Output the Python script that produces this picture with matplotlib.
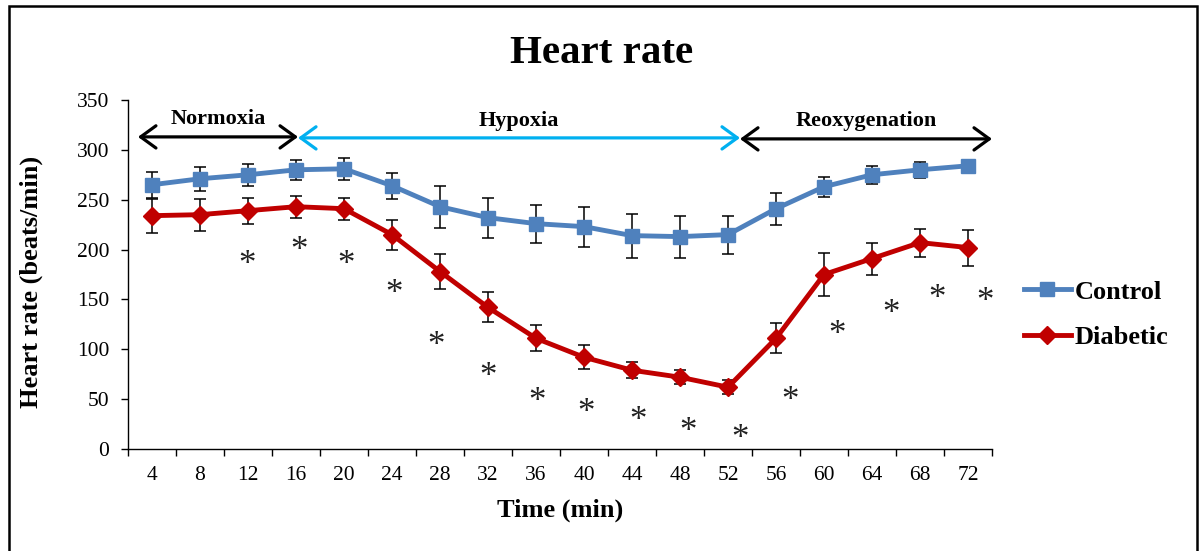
import matplotlib
matplotlib.use("Agg")
import matplotlib.pyplot as plt
from matplotlib.patches import Rectangle

plt.rcParams['font.family'] = ['Liberation Serif', 'DejaVu Serif']

# Recording times (min) and heart rate (beats/min), mean and SEM
time_min = [4, 8, 12, 16, 20, 24, 28, 32, 36, 40, 44, 48, 52, 56, 60, 64, 68, 72]
control = [265, 271, 275, 280, 281, 264, 243, 232, 226, 223, 214, 213, 215, 241, 263, 275, 280, 284]
control_sem = [13, 12, 11, 10, 11, 13, 21, 20, 19, 20, 22, 21, 19, 16, 10, 9, 8, 6]
diabetic = [234, 235, 239, 243, 241, 215, 178, 142, 111, 92, 79, 72, 62, 111, 175, 191, 207, 202]
diabetic_sem = [17, 16, 13, 11, 11, 15, 18, 15, 13, 12, 8, 7, 7, 15, 22, 16, 14, 18]

# Significance marks (placed near each significant time point)
star_time = [11.9, 16.25, 20.15, 24.2, 27.65, 32.0, 36.05, 40.15, 44.5, 48.7, 53.0, 57.2, 61.05, 65.55, 69.4, 73.4]
star_level = [193, 207, 193, 164, 112, 81, 56, 44, 36, 25, 18, 57, 123, 144, 159, 156]

# Experimental phases
phase_names = ["Normoxia", "Hypoxia", "Reoxygenation"]
phase_start = [2.83, 16.17, 53.0]
phase_end = [16.17, 53.0, 74.0]
phase_colors = ["black", "#00B0F0", "black"]
phase_arrow_level = [313, 312, 311]
phase_text_level = [325.5, 323.5, 323.5]

W, H = 1199, 551
fig = plt.figure(figsize=(W / 100, H / 100), dpi=100)
ax = fig.add_axes([128 / W, 1 - 449 / H, 864 / W, 349 / H])

blue = '#4F81BD'
red = '#C00000'

ax.errorbar(time_min, control, yerr=control_sem, fmt='none', ecolor='black',
            elinewidth=1.1, capsize=4, capthick=1.1, zorder=2)
ax.errorbar(time_min, diabetic, yerr=diabetic_sem, fmt='none', ecolor='black',
            elinewidth=1.1, capsize=4, capthick=1.1, zorder=2)
ax.plot(time_min, control, color=blue, lw=3.5, marker='s', ms=10.5,
        mfc=blue, mec=blue, zorder=3, label='Control')
ax.plot(time_min, diabetic, color=red, lw=3.5, marker='D', ms=9.5,
        mfc=red, mec=red, zorder=3, label='Diabetic')

ax.set_xlim(2, 74)
ax.set_ylim(0, 350)
ax.set_yticks(range(0, 351, 50))
ax.set_xticks(range(2, 75, 4))
ax.set_xticklabels([])
ax.set_xticks(time_min, minor=True)
ax.set_xticklabels([str(t) for t in time_min], minor=True)
ax.tick_params(axis='x', which='major', length=5, width=1, direction='out', color='black')
ax.tick_params(axis='x', which='minor', length=0, pad=12.5, labelsize=15.5)
ax.tick_params(axis='y', length=5, width=1, direction='out', pad=8.6, labelsize=15.5)
for side in ('top', 'right'):
    ax.spines[side].set_visible(False)
for side in ('left', 'bottom'):
    ax.spines[side].set_linewidth(1.0)
    ax.spines[side].set_color('black')

# Significance asterisks
for x, y in zip(star_time, star_level):
    ax.annotate('*', (x, y), xytext=(0, -12.5), textcoords='offset points',
                ha='center', va='baseline', fontsize=25, color='#222222')

# Phase arrows and labels
for name, x0, x1, c, ya, yt in zip(phase_names, phase_start, phase_end,
                                   phase_colors, phase_arrow_level, phase_text_level):
    ax.annotate('', xy=(x1, ya), xytext=(x0, ya), annotation_clip=False,
                arrowprops=dict(arrowstyle='<->,head_length=0.55,head_width=0.4',
                                mutation_scale=20, color=c, lw=2.3,
                                shrinkA=0, shrinkB=0))
    ax.text((x0 + x1) / 2, yt, name, ha='center', va='baseline',
            fontsize=16, fontweight='bold')

fig.text(601.7 / W, 1 - 62.7 / H, 'Heart rate', ha='center', va='baseline',
         fontsize=29.5, fontweight='bold')
fig.text(560 / W, 1 - 510.7 / H, 'Time (min)', ha='center', va='center',
         fontsize=19, fontweight='bold')
fig.text(31.5 / W, 1 - 281.7 / H, 'Heart rate (beats/min)', ha='center', va='center',
         rotation=90, fontsize=19, fontweight='bold')

ax.legend(loc='center left', bbox_to_anchor=(1024 / W, 1 - 314.5 / H),
          bbox_transform=fig.transFigure, frameon=False,
          prop={'weight': 'bold', 'size': 19}, handlelength=1.78,
          handletextpad=0.15, borderpad=0, borderaxespad=0, labelspacing=0.82)

# Chart frame
fig.add_artist(Rectangle((8.5 / W, -0.05), (1197 - 8.5) / W, 1.05 - 6.5 / H,
                         transform=fig.transFigure, fill=False, lw=1.8,
                         ec='black', clip_on=False))

fig.savefig('out.png', dpi=100)
